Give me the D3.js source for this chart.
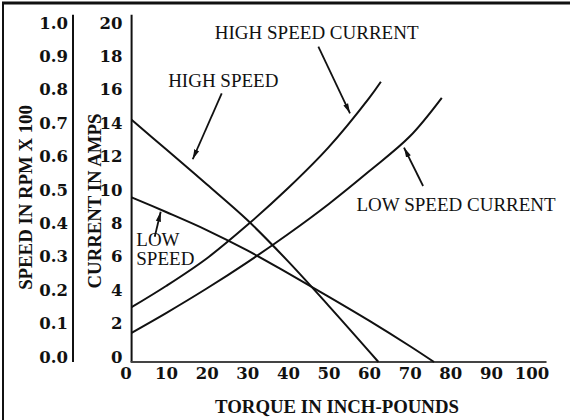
<!DOCTYPE html>
<head>
  <meta charset="utf-8">
  <script src="https://d3js.org/d3.v7.min.js"></script>
  <style>
    body { margin:0; background:#fff; }
    svg { font-family: "Liberation Serif", "Times New Roman", serif; }
    .curve { fill:none; stroke:#111; stroke-width:2; }
    .axis-line { stroke:#111; stroke-width:2; }
    .tick text { font-family: "DejaVu Serif", serif; font-size:16.5px; font-weight:bold; fill:#111; }
    .note { font-size:19px; fill:#111; }
    .title { font-size:18.8px; font-weight:bold; fill:#111; }
  </style>
</head>
<body>
<svg width="570" height="420"></svg>
<script>
// values; torque in inch-pounds
var hsTorque  = [1.5, 10, 20, 30, 40, 50, 60, 62.3];
var hsSpeed   = [0.725, 0.637, 0.532, 0.425, 0.302, 0.169, 0.032, 0];       // rpm x 100
var lsTorque  = [1.5, 10, 20, 30, 40, 50, 60, 70, 76];
var lsSpeed   = [0.493, 0.449, 0.395, 0.334, 0.266, 0.196, 0.124, 0.048, 0];
var hscTorque = [1.5, 10, 20, 30, 40, 50, 60, 62.9];
var hscAmps   = [3.28, 4.55, 6.2, 8.2, 10.4, 12.85, 15.8, 16.78];
var lscTorque = [1.5, 10, 20, 30, 40, 50, 60, 70, 77.9];
var lscAmps   = [1.75, 2.93, 4.40, 5.97, 7.65, 9.45, 11.42, 13.5, 15.82];

var torqueTicks = [0, 10, 20, 30, 40, 50, 60, 70, 80, 90, 100];
var ampTicks    = [0, 2, 4, 6, 8, 10, 12, 14, 16, 18, 20];
var speedTicks  = [0, 0.1, 0.2, 0.3, 0.4, 0.5, 0.6, 0.7, 0.8, 0.9, 1.0];

var svg = d3.select("svg");

var x = d3.scaleLinear().domain([0, 100]).range([125.5, 531.5]);
var yAmps = d3.scaleLinear().domain([0, 20]).range([362, 28]);
var ySpeed = d3.scaleLinear().domain([0, 1]).range([362, 28]);

// frame (open on right and bottom like the scan)
svg.append("line").attr("x1", 2).attr("x2", 570).attr("y1", 3).attr("y2", 3)
  .attr("stroke", "#111").attr("stroke-width", 3);
svg.append("line").attr("x1", 3).attr("x2", 3).attr("y1", 2).attr("y2", 420)
  .attr("stroke", "#111").attr("stroke-width", 2);

// axis lines
svg.append("line").attr("class", "axis-line")
  .attr("x1", x(1.5)).attr("x2", x(1.5)).attr("y1", yAmps(20.8)).attr("y2", yAmps(0));
svg.append("line").attr("class", "axis-line")
  .attr("x1", x(1.5) - 1).attr("x2", x(103.7)).attr("y1", yAmps(0)).attr("y2", yAmps(0))
  .style("stroke", "#444");
svg.append("line").attr("class", "axis-line")
  .attr("x1", 73).attr("x2", 73).attr("y1", ySpeed(1.04)).attr("y2", ySpeed(0));

// tick labels
var gx = svg.append("g").attr("transform", "translate(0," + yAmps(0) + ")")
  .call(d3.axisBottom(x).tickValues(torqueTicks).tickSize(0).tickFormat(d3.format("d")));
gx.selectAll("text").attr("y", 17).attr("dy", 0);

var ga = svg.append("g").attr("transform", "translate(" + x(1.5) + ",0)")
  .call(d3.axisLeft(yAmps).tickValues(ampTicks).tickSize(0).tickFormat(d3.format("d")));
ga.selectAll("text").attr("x", -9).attr("dy", 0);

var gs = svg.append("g").attr("transform", "translate(73,0)")
  .call(d3.axisLeft(ySpeed).tickValues(speedTicks).tickSize(0).tickFormat(d3.format(".1f")));
gs.selectAll("text").attr("x", -5).attr("dy", 0);

[gx, ga, gs].forEach(function(g) {
  g.select(".domain").remove();
  g.attr("font-family", null).attr("font-size", null);
});

// axis titles
svg.append("text").attr("class", "title").attr("text-anchor", "middle")
  .attr("x", 337).attr("y", 413).text("TORQUE IN INCH-POUNDS");
svg.append("text").attr("class", "title").attr("text-anchor", "middle")
  .attr("transform", "translate(31.5,197.5) rotate(-90)").text("SPEED IN RPM X 100");
svg.append("text").attr("class", "title").attr("text-anchor", "middle")
  .attr("transform", "translate(101,201) rotate(-90)").text("CURRENT IN AMPS");

// curves
var line = d3.line()
  .x(function(d) { return x(d[0]); })
  .y(function(d) { return d[1]; })
  .curve(d3.curveCatmullRom.alpha(0.5));

function pts(tq, vals, scale) {
  return tq.map(function(t, i) { return [t, scale(vals[i])]; });
}

svg.append("path").attr("class", "curve").attr("d", line(pts(hsTorque, hsSpeed, ySpeed)));
svg.append("path").attr("class", "curve").attr("d", line(pts(lsTorque, lsSpeed, ySpeed)));
svg.append("path").attr("class", "curve").attr("d", line(pts(hscTorque, hscAmps, yAmps)));
svg.append("path").attr("class", "curve").attr("d", line(pts(lscTorque, lscAmps, yAmps)));

// annotations, placed in torque / amps units
var notes = [
  { text: "HIGH SPEED CURRENT", t: 22.0, a: 19.34 },
  { text: "HIGH SPEED", t: 10.5, a: 16.47 },
  { text: "LOW SPEED CURRENT", t: 56.9, a: 9.06 },
  { text: "LOW", t: 2.66, a: 6.95 },
  { text: "SPEED", t: 2.66, a: 5.81 }
];
var arrows = [
  { from: [47.5, 18.88], to: [55.3, 14.89] },
  { from: [23.7, 16.09], to: [16.55, 12.14] },
  { from: [73.3, 10.54], to: [68.6, 12.84] },
  { from: [7.2, 7.5],   to: [8.67, 9.0] }
];

svg.append("defs").append("marker")
  .attr("id", "head").attr("markerUnits", "userSpaceOnUse")
  .attr("viewBox", "0 -4 10 8").attr("refX", 10).attr("refY", 0)
  .attr("markerWidth", 10).attr("markerHeight", 8).attr("orient", "auto")
  .append("path").attr("d", "M0,-2.6L10,0L0,2.6Z").attr("fill", "#111");

svg.selectAll(".note").data(notes).enter().append("text")
  .attr("class", "note")
  .attr("x", function(d) { return x(d.t); })
  .attr("y", function(d) { return yAmps(d.a); })
  .text(function(d) { return d.text; });

svg.selectAll(".arrow").data(arrows).enter().append("line")
  .attr("class", "arrow")
  .attr("x1", function(d) { return x(d.from[0]); })
  .attr("y1", function(d) { return yAmps(d.from[1]); })
  .attr("x2", function(d) { return x(d.to[0]); })
  .attr("y2", function(d) { return yAmps(d.to[1]); })
  .attr("stroke", "#111").attr("stroke-width", 1.8)
  .attr("marker-end", "url(#head)");
</script>
</body>
